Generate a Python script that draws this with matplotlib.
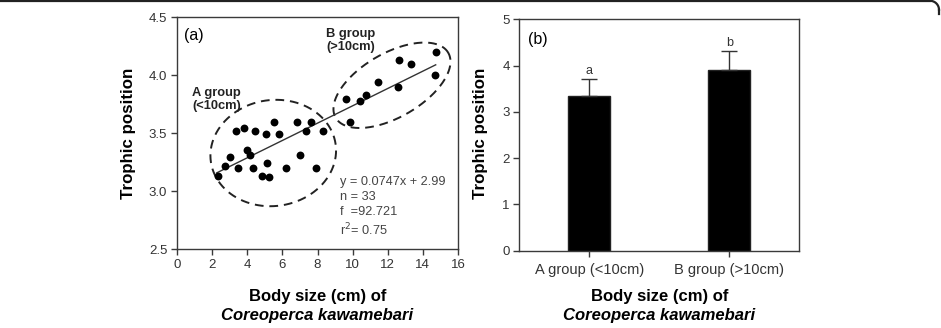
import numpy as np
import matplotlib
matplotlib.use("Agg")
import matplotlib.pyplot as plt
from matplotlib.lines import Line2D

plt.rcParams['font.family'] = ['Liberation Sans', 'DejaVu Sans']

# ---- panel (a) data: body size (cm) vs trophic position ----
body_size = [2.35, 2.73, 3.04, 3.36, 3.45, 3.82, 3.97, 4.16, 4.35, 4.44,
             4.84, 5.07, 5.14, 5.24, 5.54, 5.83, 6.23, 6.81, 7.02, 7.35,
             7.65, 7.92, 8.33, 9.85, 9.64, 10.44, 10.76, 11.47, 12.57, 12.62,
             13.34, 14.67, 14.73]
trophic_pos = [3.13, 3.22, 3.30, 3.52, 3.20, 3.55, 3.36, 3.31, 3.20, 3.52,
               3.13, 3.49, 3.24, 3.12, 3.60, 3.49, 3.20, 3.60, 3.31, 3.52,
               3.60, 3.20, 3.52, 3.60, 3.80, 3.78, 3.83, 3.94, 3.90, 4.13,
               4.10, 4.00, 4.20]
fit_slope = 0.0747
fit_intercept = 2.99
fit_range = [2.26, 14.73]

# ---- panel (b) data: group means ----
groups = ['A group (<10cm)', 'B group (>10cm)']
group_means = [3.35, 3.90]
group_err = [0.36, 0.41]
group_letters = ['a', 'b']

W, H = 941, 328
fig = plt.figure(figsize=(W / 100, H / 100), dpi=100)

spine_col = '#3a3a3a'
tick_col = '#333333'

# ---------------- panel (a) ----------------
ax1 = fig.add_axes([177 / W, 1 - 249.3 / H, (458 - 177) / W, (249.3 - 17.3) / H])
ax1.scatter(body_size, trophic_pos, s=32, color='black', zorder=3, linewidths=0)
xf = np.array(fit_range)
ax1.plot(xf, fit_slope * xf + fit_intercept, color='#333333', lw=1.0, zorder=2)

# dashed group ellipses, defined in pixel units then mapped to data
px_x = (458 - 177) / 16.0
px_y = (249.3 - 17.3) / 2.0


def ellipse(cx, cy, a, b, ang):
    t = np.linspace(0, 2 * np.pi, 300)
    th = np.radians(ang)
    dx = a * np.cos(t) * np.cos(th) - b * np.sin(t) * np.sin(th)
    dy = a * np.cos(t) * np.sin(th) + b * np.sin(t) * np.cos(th)
    ax1.plot(cx + dx / px_x, cy + dy / px_y, color='#222222', lw=1.4,
             ls=(0, (4.5, 3)), zorder=1)


ellipse(5.48, 3.33, 63, 53, 8)
ellipse(12.24, 3.914, 65, 32, 30)

ax1.set_xlim(0, 16)
ax1.set_ylim(2.5, 4.5)
ax1.set_xticks(np.arange(0, 17, 2))
ax1.set_yticks(np.arange(2.5, 4.51, 0.5))
ax1.set_yticklabels(['%.1f' % v for v in np.arange(2.5, 4.51, 0.5)])

ax1.text(0.025, 0.955, '(a)', transform=ax1.transAxes, fontsize=11.5, va='top')
ax1.text(0.055, 0.70, 'A group\n(<10cm)', transform=ax1.transAxes, fontsize=9.3,
         fontweight='bold', va='top', color='#222222', linespacing=1.1)
ax1.text(0.53, 0.955, 'B group\n(>10cm)', transform=ax1.transAxes, fontsize=9.3,
         fontweight='bold', va='top', color='#222222', linespacing=1.1)
ax1.text(0.58, 0.315, 'y = 0.0747x + 2.99\nn = 33\nf  =92.721\nr$^2$= 0.75',
         transform=ax1.transAxes, fontsize=9.2, va='top', color='#444444',
         linespacing=1.3)

# ---------------- panel (b) ----------------
ax2 = fig.add_axes([519.3 / W, 1 - 250.7 / H, (799.3 - 519.3) / W, (250.7 - 19.3) / H])
xpos = np.arange(len(groups))
ax2.bar(xpos, group_means, width=0.3, color='black', edgecolor='#222222', zorder=2)
ax2.errorbar(xpos, group_means, yerr=[[0, 0], group_err], fmt='none',
             ecolor='#333333', elinewidth=1, capsize=5.5, capthick=1, zorder=3)
for x, m, e, lab in zip(xpos, group_means, group_err, group_letters):
    ax2.text(x, m + e + 0.05, lab, ha='center', va='bottom', fontsize=9,
             color='#333333')
ax2.set_xlim(-0.5, 1.5)
ax2.set_ylim(0, 5)
ax2.set_xticks(xpos)
ax2.set_xticklabels(groups)
ax2.set_yticks(range(0, 6))
ax2.text(0.03, 0.945, '(b)', transform=ax2.transAxes, fontsize=11.5, va='top')

for ax in (ax1, ax2):
    for sp in ax.spines.values():
        sp.set_color(spine_col)
        sp.set_linewidth(1.0)
    ax.tick_params(direction='out', length=4, width=1, color=spine_col,
                   labelsize=9.5, labelcolor=tick_col, pad=3)

ax2.tick_params(axis='x', labelsize=10.5, pad=5)

# axis titles
for xc, yl in ((129, 'Trophic position'), (480.7, 'Trophic position')):
    fig.text(xc / W, 0.5 * ((1 - 249.3 / H) + (1 - 17.3 / H)), yl, rotation=90,
             ha='center', va='center', fontsize=12.2, fontweight='bold')
for xc in ((177 + 458) / 2, (519.3 + 799.3) / 2):
    fig.text(xc / W, 1 - 297 / H, 'Body size (cm) of', ha='center', va='center',
             fontsize=12, fontweight='bold')
    fig.text(xc / W, 1 - 315.5 / H, 'Coreoperca kawamebari', ha='center',
             va='center', fontsize=12, fontweight='bold', style='italic')

# page frame remnant at top edge
fig.add_artist(Line2D([0, 930 / W], [1 - 0.8 / H, 1 - 0.8 / H], color='#222222',
                      lw=1.6, transform=fig.transFigure))
t = np.linspace(np.pi / 2, 0, 20)
fig.add_artist(Line2D((930 + 9 * np.cos(t)) / W, (H - 9.8 + 9 * np.sin(t)) / H,
                      color='#222222', lw=1.6, transform=fig.transFigure))
fig.add_artist(Line2D([939 / W, 939 / W], [1 - 9.8 / H, 1 - 14 / H],
                      color='#222222', lw=1.6, transform=fig.transFigure))

fig.savefig('out.png', dpi=100)
